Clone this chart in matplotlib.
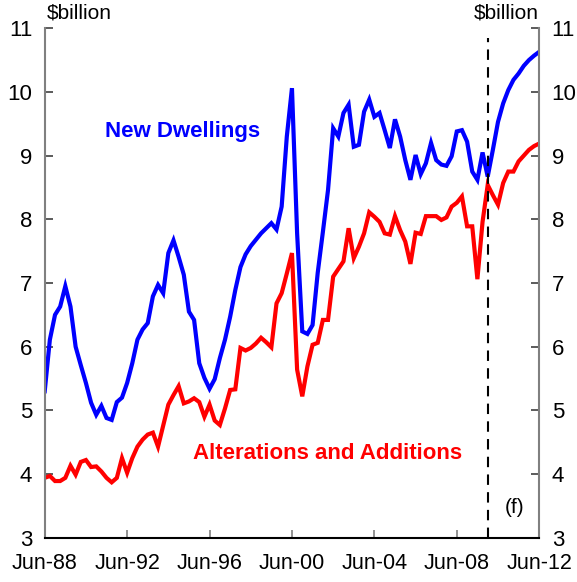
import numpy as np
import matplotlib
matplotlib.use("Agg")
import matplotlib.pyplot as plt

plt.rcParams['font.family'] = ['Liberation Sans', 'DejaVu Sans']

# quarterly, Jun-88 to Jun-12, $billion
new_dwellings = [
    5.30, 6.11, 6.50, 6.63, 6.95, 6.63, 6.00, 5.71, 5.43, 5.12,
    4.93, 5.07, 4.88, 4.85, 5.13, 5.20, 5.43, 5.74, 6.11, 6.27,
    6.37, 6.79, 6.97, 6.84, 7.47, 7.67, 7.41, 7.13, 6.55, 6.42,
    5.74, 5.51, 5.34, 5.49, 5.82, 6.11, 6.47, 6.89, 7.25, 7.45,
    7.58, 7.68, 7.78, 7.86, 7.94, 7.84, 8.20, 9.30, 10.06, 7.78,
    6.24, 6.20, 6.34, 7.16, 7.80, 8.46, 9.43, 9.30, 9.67, 9.80,
    9.14, 9.17, 9.69, 9.88, 9.61, 9.67, 9.40, 9.12, 9.57, 9.30,
    8.93, 8.62, 9.01, 8.71, 8.88, 9.20, 8.93, 8.86, 8.84, 8.99,
    9.38, 9.40, 9.22, 8.75, 8.62, 9.05, 8.67, 9.09, 9.53, 9.82,
    10.03, 10.19, 10.29, 10.41, 10.50, 10.57, 10.63,
]
alterations = [
    3.94, 3.97, 3.89, 3.89, 3.94, 4.13, 3.99, 4.19, 4.22, 4.11,
    4.12, 4.04, 3.94, 3.87, 3.94, 4.25, 4.02, 4.25, 4.43, 4.54,
    4.62, 4.65, 4.43, 4.76, 5.09, 5.24, 5.38, 5.11, 5.14, 5.19,
    5.13, 4.90, 5.09, 4.84, 4.77, 5.03, 5.32, 5.33, 5.98, 5.94,
    5.98, 6.05, 6.14, 6.07, 5.99, 6.68, 6.84, 7.15, 7.47, 5.64,
    5.22, 5.69, 6.03, 6.06, 6.42, 6.42, 7.10, 7.22, 7.34, 7.86,
    7.39, 7.57, 7.78, 8.11, 8.04, 7.96, 7.78, 7.76, 8.05, 7.83,
    7.65, 7.30, 7.79, 7.77, 8.05, 8.05, 8.05, 7.99, 8.03, 8.20,
    8.26, 8.36, 7.89, 7.89, 7.06, 7.96, 8.54, 8.38, 8.23, 8.57,
    8.75, 8.75, 8.91, 9.00, 9.09, 9.15, 9.19,
]
tick_labels = ['Jun-88', 'Jun-92', 'Jun-96', 'Jun-00', 'Jun-04', 'Jun-08', 'Jun-12']
forecast_start = 86  # Dec-09

q = np.arange(len(new_dwellings))

fig = plt.figure(figsize=(5.77, 5.82), dpi=100)
ax = fig.add_axes([0.0775, 0.0761, 0.857, 0.8753])

ax.plot(q, new_dwellings, color='#0000ff', lw=3, solid_joinstyle='miter')
ax.plot(q, alterations, color='#ff0000', lw=3, solid_joinstyle='miter')
ax.vlines(forecast_start, 3, 10.85, colors='black', linestyles=(0, (5, 3.5)), lw=1.5)

ax.set_xlim(0, 96)
ax.set_ylim(3, 11)
ax.set_xticks(np.arange(0, 97, 16))
ax.set_xticklabels(tick_labels)
ax.set_yticks(range(3, 12))

grey = '#808080'
ax.spines['top'].set_visible(False)
for side in ('left', 'right'):
    ax.spines[side].set_color(grey)
    ax.spines[side].set_linewidth(1.5)
ax.spines['bottom'].set_linewidth(1.5)

ax.tick_params(axis='x', direction='in', length=6, width=1.2, color=grey,
               labelsize=15.5, pad=11)
ax.tick_params(axis='y', direction='in', length=6, width=1.2, color='#404040',
               labelsize=16, left=True, right=True, labelleft=True,
               labelright=True)
for t in ax.yaxis.get_major_ticks():
    t.set_pad(9)

ax.text(0.005, 1.012, '$billion', transform=ax.transAxes, fontsize=15,
        ha='left', va='bottom')
ax.text(1.0, 1.012, '$billion', transform=ax.transAxes, fontsize=15,
        ha='right', va='bottom')

ax.text(26.7, 9.38, 'New Dwellings', color='#0000ff', fontsize=16,
        fontweight='bold', ha='center', va='center')
ax.text(55.0, 4.33, 'Alterations and Additions', color='#ff0000', fontsize=16,
        fontweight='bold', ha='center', va='center')
ax.text(91.3, 3.47, '(f)', fontsize=15, ha='center', va='center')

fig.savefig('out.png', dpi=100)
